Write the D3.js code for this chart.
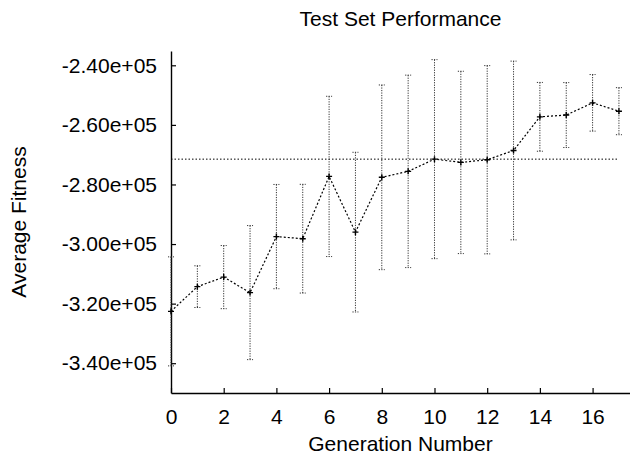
<!DOCTYPE html>
<html>
<head>
<meta charset="utf-8">
<script src="https://cdn.jsdelivr.net/npm/d3@7"></script>
<style>
  body { margin: 0; background: #fff; }
  text { font-family: "Liberation Sans", Arial, Helvetica, sans-serif; fill: #000; }
</style>
</head>
<body>
<svg id="chart" width="630" height="456"></svg>
<script>
'use strict';

// generation numbers
var generations = [0, 1, 2, 3, 4, 5, 6, 7, 8, 9, 10, 11, 12, 13, 14, 15, 16, 17];
// average fitness per generation
var fitness = [-322600, -314300, -311100, -316300, -297500, -298200, -277300, -296000, -277600,
               -275600, -271500, -272600, -271700, -268600, -257300, -256700, -252600, -255400];
// error bar half-widths
var spread = [18300, 7000, 10600, 22500, 17500, 18250, 26900, 26800, 31000,
              32300, 33400, 30600, 31600, 30000, 11550, 10900, 9500, 7900];
// reference level (horizontal dotted line)
var baseline = -271500;

var yTicks = [-240000, -260000, -280000, -300000, -320000, -340000];
var xTicks = [0, 2, 4, 6, 8, 10, 12, 14, 16];

var FONT_SIZE = 21;
var AXIS_LEFT = 171,
    AXIS_RIGHT = 630,
    AXIS_TOP = 51,
    AXIS_BOTTOM = 393;
var TICK_LEN = 5;

var svg = d3.select('#chart');

var x = d3.scaleLinear()
    .domain([0, 17.42])
    .range([AXIS_LEFT, AXIS_RIGHT]);

var y = d3.scaleLinear()
    .domain([-350000, -235200])
    .range([AXIS_BOTTOM, AXIS_TOP]);

/*
 * Axes: only left and bottom lines, ticks pointing inward
 */
var xAxis = d3.axisBottom(x)
    .tickValues(xTicks)
    .tickSizeInner(-TICK_LEN)
    .tickSizeOuter(0)
    .tickPadding(16)
    .tickFormat(d3.format('d'));

var yAxis = d3.axisLeft(y)
    .tickValues(yTicks)
    .tickSizeInner(-TICK_LEN)
    .tickSizeOuter(0)
    .tickPadding(14)
    .tickFormat(function(d) {
        var s = d3.format('.2e')(d); // −2.40e+5
        return s.replace('\u2212', '-').replace(/e([+-])(\d)$/, 'e$10$2');
    });

var gx = svg.append('g')
    .attr('transform', 'translate(0,' + AXIS_BOTTOM + ')')
    .call(xAxis);

var gy = svg.append('g')
    .attr('transform', 'translate(' + AXIS_LEFT + ',0)')
    .call(yAxis);

[gx, gy].forEach(function(g) {
    g.select('.domain').attr('stroke', '#000').attr('stroke-width', 1.4);
    g.selectAll('.tick line').attr('stroke', '#000').attr('stroke-width', 1.2);
    g.selectAll('.tick text')
        .style('font-size', FONT_SIZE + 'px')
        .style('font-family', '"Liberation Sans", Arial, sans-serif')
        .attr('fill', '#000');
});
gx.selectAll('.tick text').attr('dy', '0.71em');

/*
 * Titles
 */
svg.append('text')
    .attr('x', (AXIS_LEFT + AXIS_RIGHT) / 2)
    .attr('y', 26)
    .attr('text-anchor', 'middle')
    .style('font-size', FONT_SIZE + 'px')
    .text('Test Set Performance');

svg.append('text')
    .attr('x', (AXIS_LEFT + AXIS_RIGHT) / 2)
    .attr('y', 451)
    .attr('text-anchor', 'middle')
    .style('font-size', FONT_SIZE + 'px')
    .text('Generation Number');

svg.append('text')
    .attr('transform', 'translate(25.5,' + (AXIS_TOP + AXIS_BOTTOM) / 2 + ') rotate(-90)')
    .attr('text-anchor', 'middle')
    .style('font-size', FONT_SIZE + 'px')
    .text('Average Fitness');

/*
 * Reference line
 */
svg.append('line')
    .attr('x1', x(0))
    .attr('x2', x(17))
    .attr('y1', y(baseline))
    .attr('y2', y(baseline))
    .attr('stroke', '#000')
    .attr('stroke-width', 1)
    .attr('stroke-dasharray', '1.5,2');

/*
 * Error bars
 */
var rows = generations.map(function(g, i) {
    return { gen: g, value: fitness[i], err: spread[i] };
});

var bars = svg.append('g')
    .attr('stroke', '#333')
    .attr('stroke-width', 1)
    .attr('stroke-dasharray', '1.2,1.3');

bars.selectAll('line.err')
    .data(rows)
    .enter().append('line')
    .attr('class', 'err')
    .attr('x1', function(d) { return x(d.gen); })
    .attr('x2', function(d) { return x(d.gen); })
    .attr('y1', function(d) { return y(d.value + d.err); })
    .attr('y2', function(d) { return y(d.value - d.err); });

['top', 'bottom'].forEach(function(side) {
    bars.selectAll('line.cap-' + side)
        .data(rows)
        .enter().append('line')
        .attr('class', 'cap-' + side)
        .attr('x1', function(d) { return x(d.gen) - 3; })
        .attr('x2', function(d) { return x(d.gen) + 3; })
        .attr('y1', function(d) { return y(side === 'top' ? d.value + d.err : d.value - d.err); })
        .attr('y2', function(d) { return y(side === 'top' ? d.value + d.err : d.value - d.err); });
});

/*
 * Data line and markers
 */
var line = d3.line()
    .x(function(d) { return x(d.gen); })
    .y(function(d) { return y(d.value); });

svg.append('path')
    .datum(rows)
    .attr('d', line)
    .attr('fill', 'none')
    .attr('stroke', '#000')
    .attr('stroke-width', 1.2)
    .attr('stroke-dasharray', '2,2');

svg.append('g')
    .selectAll('path.plus')
    .data(rows)
    .enter().append('path')
    .attr('class', 'plus')
    .attr('d', 'M-3,0H3M0,-3V3')
    .attr('transform', function(d) { return 'translate(' + x(d.gen) + ',' + y(d.value) + ')'; })
    .attr('stroke', '#000')
    .attr('stroke-width', 1.4);
</script>
</body>
</html>
